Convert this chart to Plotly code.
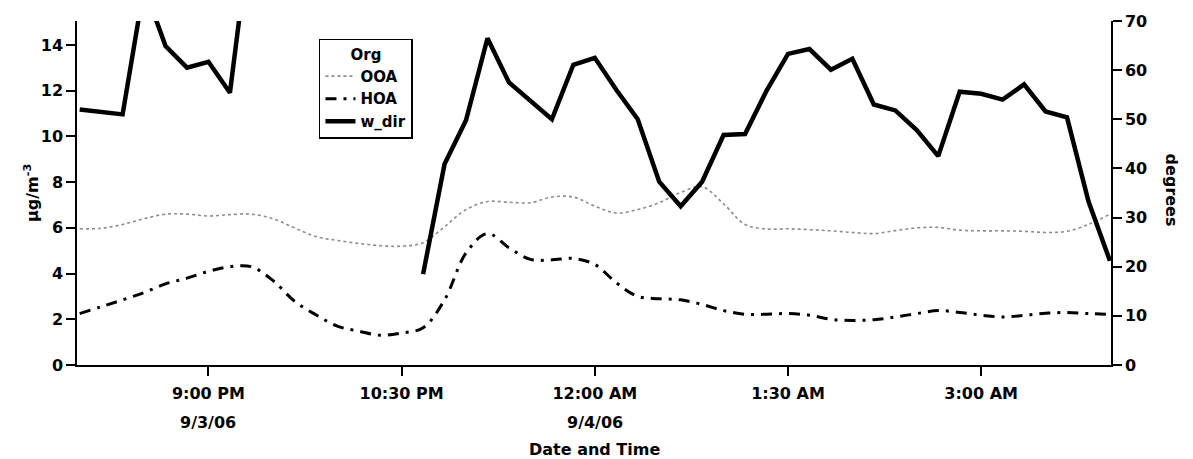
import pandas as pd
import plotly.graph_objects as go

# 10-minute samples from 8:00 PM 9/3/06 to 4:00 AM 9/4/06
times = pd.date_range("2006-09-03 20:00", "2006-09-04 04:00", freq="10min")

ooa = [5.96, 5.98, 6.15, 6.40, 6.60, 6.60, 6.52, 6.58, 6.60, 6.40,
       6.00, 5.62, 5.45, 5.32, 5.22, 5.20, 5.35, 6.05, 6.80, 7.15,
       7.12, 7.10, 7.35, 7.35, 6.95, 6.65, 6.80, 7.10, 7.55, 7.80,
       7.05, 6.15, 5.95, 5.96, 5.92, 5.87, 5.80, 5.75, 5.88, 6.00,
       6.02, 5.90, 5.87, 5.87, 5.85, 5.80, 5.85, 6.15, 6.60]

hoa = [2.25, 2.55, 2.85, 3.17, 3.55, 3.80, 4.10, 4.30, 4.30, 3.70,
       2.80, 2.20, 1.70, 1.48, 1.30, 1.40, 1.63, 2.85, 4.90, 5.75,
       5.13, 4.62, 4.60, 4.66, 4.40, 3.60, 3.00, 2.90, 2.85, 2.65,
       2.38, 2.22, 2.22, 2.25, 2.18, 2.00, 1.95, 1.98, 2.10, 2.25,
       2.38, 2.30, 2.18, 2.10, 2.17, 2.26, 2.30, 2.25, 2.22]

w_dir = [52.0, 51.6, 51.0, 77.0, 64.9, 60.5, 61.7, 55.4, 90.0, None,
         None, None, None, None, None, None, 18.5, 40.9, 49.8, 66.5,
         57.5, 53.6, 50.0, 61.1, 62.5, 56.0, 50.0, 37.3, 32.3, 37.3,
         46.8, 47.0, 55.8, 63.3, 64.3, 60.1, 62.3, 53.0, 51.8, 47.8,
         42.5, 55.6, 55.2, 54.0, 57.1, 51.6, 50.4, 33.3, 21.2]

tick_vals = ["2006-09-03 21:00", "2006-09-03 22:30", "2006-09-04 00:00",
             "2006-09-04 01:30", "2006-09-04 03:00"]
tick_text = ["9:00 PM", "10:30 PM", "12:00 AM", "1:30 AM", "3:00 AM"]
date_ticks = ["2006-09-03 21:00", "2006-09-04 00:00"]
date_text = ["9/3/06", "9/4/06"]
y_ticks = [0, 2, 4, 6, 8, 10, 12, 14]
y2_ticks = [0, 10, 20, 30, 40, 50, 60, 70]

FONT = "DejaVu Sans"
FS = 16
bold = dict(family=FONT, size=FS, color="black", weight="bold")
legfont = dict(family=FONT, size=15, color="black", weight="bold")

fig = go.Figure()
fig.add_trace(go.Scatter(
    x=times, y=ooa, name="OOA", mode="lines",
    line=dict(color="#8c8c8c", width=1.6, dash="3px,3px", shape="spline", smoothing=1.0),
    yaxis="y"))
fig.add_trace(go.Scatter(
    x=times, y=hoa, name="HOA", mode="lines",
    line=dict(color="black", width=3, dash="11px,7px,3px,7px", shape="spline", smoothing=1.0),
    yaxis="y"))
fig.add_trace(go.Scatter(
    x=times, y=w_dir, name="w_dir", mode="lines", connectgaps=False,
    line=dict(color="black", width=4.5),
    yaxis="y2"))

axis_common = dict(showline=True, linecolor="black", linewidth=1.5,
                   ticks="outside", tickcolor="black", tickwidth=1.5, ticklen=9,
                   showgrid=False, zeroline=False, tickfont=bold)

fig.update_layout(
    width=1193, height=459,
    margin=dict(l=77, r=82, t=18, b=94),
    paper_bgcolor="white", plot_bgcolor="white",
    font=bold,
    showlegend=True,
    legend=dict(
        x=0.234, y=0.948, xanchor="left", yanchor="top",
        bgcolor="white", bordercolor="black", borderwidth=1.5,
        font=legfont,
        title=dict(text="Org", side="top center", font=legfont),
        tracegroupgap=0, itemwidth=30,
    ),
    xaxis=dict(
        **axis_common,
        type="date",
        range=["2006-09-03 19:58:45", "2006-09-04 04:00:30"],
        tickvals=tick_vals, ticktext=tick_text,
        ticklabelstandoff=4,
    ),
    yaxis=dict(
        **axis_common,
        range=[0, 15.05], tickvals=y_ticks,
    ),
    yaxis2=dict(
        **axis_common,
        overlaying="y", side="right",
        range=[0, 70], tickvals=y2_ticks,
    ),
)

annotations = []
for dv, dt in zip(date_ticks, date_text):
    annotations.append(dict(x=dv, xref="x", y=-0.167, yref="paper",
                            text=dt, showarrow=False, yanchor="middle", font=bold))
annotations.append(dict(x=0.5, xref="paper", y=-0.245, yref="paper",
                        text="Date and Time", showarrow=False, yanchor="middle", font=bold))
annotations.append(dict(x=-0.0445, xref="paper", y=0.50, yref="paper",
                        text="µg/m<sup>-3</sup>", showarrow=False, textangle=-90,
                        xanchor="center", yanchor="middle", font=bold))
annotations.append(dict(x=1.058, xref="paper", y=0.507, yref="paper",
                        text="degrees", showarrow=False, textangle=90,
                        xanchor="center", yanchor="middle", font=bold))
fig.update_layout(annotations=annotations)

fig.write_html("out.html")
